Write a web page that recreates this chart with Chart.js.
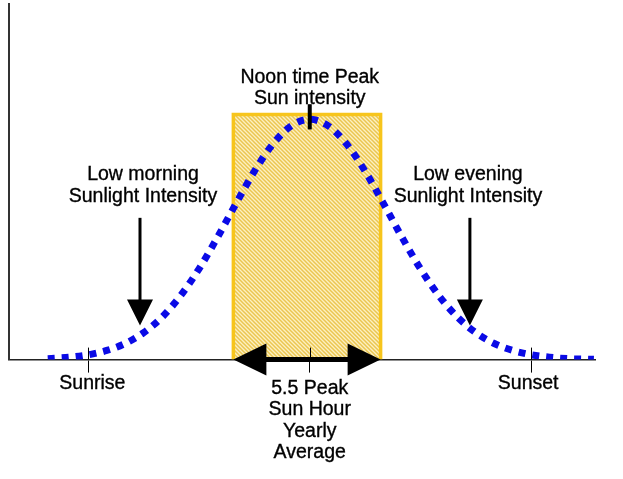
<!DOCTYPE html>
<html>
<head>
<meta charset="utf-8">
<script src="https://cdn.jsdelivr.net/npm/chart.js@4/dist/chart.umd.min.js"></script>
<style>
  html, body { margin: 0; padding: 0; background: #fff; }
  #wrap { width: 623px; height: 479px; }
</style>
</head>
<body>
<div id="wrap"><canvas id="sunChart" width="623" height="479"></canvas></div>
<script>
//.. data (x in hours of the day, y is relative sun intensity, 1 = noon peak)
const curveHours = [4.9, 5.5, 6, 6.5, 7, 7.5, 8, 8.5, 9, 9.5, 10, 10.5, 11, 11.5, 12,
                    12.5, 13, 13.5, 14, 14.5, 15, 15.5, 16, 16.5, 17, 17.5, 18, 18.5, 19, 19.7];
const curveIntensity = [0.004, 0.010, 0.020, 0.038, 0.067, 0.112, 0.177, 0.266, 0.378, 0.509, 0.649, 0.784, 0.897, 0.973, 1.0,
                        0.973, 0.897, 0.784, 0.649, 0.509, 0.378, 0.266, 0.177, 0.112, 0.067, 0.038, 0.020, 0.010, 0.004, 0.001];

const peakBlockHours = [9.93, 9.93, 13.92, 13.92];
const peakBlockLevel = [0, 1.02, 1.02, 0];

const tickHours = [6, 12, 18];
const tickLabels = ['Sunrise', '', 'Sunset'];

//.. callouts: [hour, text lines]
const morningNote = [7.4, ['Low morning', 'Sunlight Intensity']];
const eveningNote = [16.34, ['Low evening', 'Sunlight Intensity']];
const noonNote = [12, ['Noon time Peak', 'Sun intensity']];
const blockNote = [12, ['5.5 Peak', 'Sun Hour', 'Yearly', 'Average']];

const FAMILY = '"Liberation Sans", Arial, sans-serif';
const FONT = '19.5px ' + FAMILY;

//.. Function to build the hatch fill
function hatchPattern() {
    const c = document.createElement('canvas');
    c.width = 4; c.height = 4;
    const g = c.getContext('2d');
    g.fillStyle = '#fcf0c2';
    g.fillRect(0, 0, 4, 4);
    g.strokeStyle = '#ebc650';
    g.lineWidth = 1.5;
    g.beginPath();
    g.moveTo(0, 0); g.lineTo(4, 4);
    g.moveTo(-1, 3); g.lineTo(1, 5);
    g.moveTo(3, -1); g.lineTo(5, 1);
    g.stroke();
    return g.createPattern(c, 'repeat');
}

//.. Function to draw an arrow head pointing along (dx, dy)
function head(ctx, x, y, dx, dy, len, half) {
    ctx.beginPath();
    ctx.moveTo(x, y);
    ctx.lineTo(x - dx * len - dy * half, y - dy * len + dx * half);
    ctx.lineTo(x - dx * len + dy * half, y - dy * len - dx * half);
    ctx.closePath();
    ctx.fill();
}

const notesPlugin = {
    id: 'notes',
    afterDatasetsDraw(chart) {
        const ctx = chart.ctx;
        const xs = chart.scales.x, ys = chart.scales.y;
        const base = ys.getPixelForValue(0);
        ctx.save();
        ctx.fillStyle = '#000';
        ctx.strokeStyle = '#000';

        //.. tick marks above the axis
        ctx.lineWidth = 1;
        tickHours.forEach(function (h) {
            const px = Math.round(xs.getPixelForValue(h)) + 0.5;
            ctx.beginPath();
            ctx.moveTo(px, base - 12);
            ctx.lineTo(px, base);
            ctx.stroke();
        });

        //.. morning and evening arrows
        [morningNote, eveningNote].forEach(function (n) {
            const px = xs.getPixelForValue(n[0]);
            const top = ys.getPixelForValue(0.59);
            const tip = ys.getPixelForValue(0.142);
            ctx.lineWidth = 3;
            ctx.beginPath();
            ctx.moveTo(px, top);
            ctx.lineTo(px, tip - 18);
            ctx.stroke();
            head(ctx, px, tip, 0, 1, 26, 13);
        });

        //.. noon marker
        const nx = xs.getPixelForValue(noonNote[0]);
        ctx.lineWidth = 4;
        ctx.beginPath();
        ctx.moveTo(nx, ys.getPixelForValue(1.063));
        ctx.lineTo(nx, ys.getPixelForValue(0.958));
        ctx.stroke();

        //.. double arrow along the base of the peak block
        const l = xs.getPixelForValue(peakBlockHours[0]);
        const r = xs.getPixelForValue(peakBlockHours[2]);
        ctx.lineWidth = 5;
        ctx.beginPath();
        ctx.moveTo(l + 20, base);
        ctx.lineTo(r - 20, base);
        ctx.stroke();
        head(ctx, l, base, -1, 0, 33, 16);
        head(ctx, r, base, 1, 0, 33, 16);

        //.. texts
        ctx.font = FONT;
        ctx.textAlign = 'center';
        ctx.textBaseline = 'middle';
        ctx.lineWidth = 0.35;
        function lines(x, y0, arr, step) {
            arr.forEach(function (t, i) {
                ctx.fillText(t, x, y0 + i * step);
                ctx.strokeText(t, x, y0 + i * step);
            });
        }
        lines(xs.getPixelForValue(morningNote[0]) + 3, ys.getPixelForValue(0.77), morningNote[1], 22);
        lines(xs.getPixelForValue(eveningNote[0]) - 2, ys.getPixelForValue(0.77), eveningNote[1], 22);
        lines(nx, ys.getPixelForValue(1.175), noonNote[1], 21);
        lines(xs.getPixelForValue(blockNote[0]), base + 29, blockNote[1], 21.3);

        //.. axis labels under the ticks
        lines(xs.getPixelForValue(tickHours[0]) + 4, base + 24, [tickLabels[0]], 0);
        lines(xs.getPixelForValue(tickHours[2]) - 3, base + 24, [tickLabels[2]], 0);
        ctx.restore();
    }
};

const ctx = document.getElementById('sunChart').getContext('2d');
new Chart(ctx, {
    type: 'line',
    data: {
        datasets: [{
            label: 'Peak sun hours',
            data: peakBlockHours.map(function (h, i) { return {x: h, y: peakBlockLevel[i]}; }),
            borderColor: '#f7c51c',
            borderWidth: 3.5,
            backgroundColor: hatchPattern(),
            fill: 'origin',
            pointRadius: 0,
            tension: 0,
            order: 2
        }, {
            label: 'Sun intensity',
            data: curveHours.map(function (h, i) { return {x: h, y: curveIntensity[i]}; }),
            borderColor: '#0a0ae6',
            borderWidth: 7,
            borderDash: [7, 7],
            borderCapStyle: 'butt',
            pointRadius: 0,
            fill: false,
            cubicInterpolationMode: 'monotone',
            order: 1
        }]
    },
    options: {
        responsive: false,
        animation: false,
        events: [],
        layout: {padding: {left: 9, right: 28, top: 4, bottom: 79}},
        plugins: {legend: {display: false}, tooltip: {enabled: false}},
        scales: {
            x: {
                type: 'linear',
                min: 3.85,
                max: 19.73,
                afterBuildTicks: function (axis) {
                    axis.ticks = tickHours.map(function (v) { return {value: v}; });
                },
                ticks: {
                    autoSkip: false,
                    maxRotation: 0,
                    padding: 2,
                    color: 'rgba(0,0,0,0)',
                    font: {family: FAMILY, size: 19.5},
                    callback: function (v) { return tickLabels[tickHours.indexOf(v)]; }
                },
                grid: {drawOnChartArea: false, tickLength: 13, color: '#000', tickWidth: 1},
                border: {display: true, color: '#222', width: 1.5}
            },
            y: {
                min: 0,
                max: 1.48,
                ticks: {display: false},
                grid: {display: false, drawTicks: false},
                border: {display: true, color: '#333', width: 2}
            }
        }
    },
    plugins: [notesPlugin]
});
</script>
</body>
</html>
